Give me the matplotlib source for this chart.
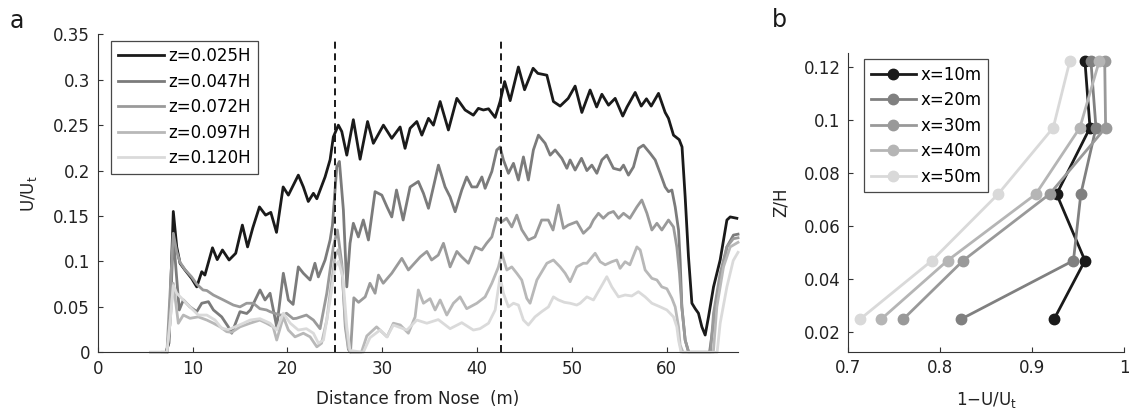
import matplotlib
matplotlib.use("Agg")
import matplotlib.pyplot as plt

plt.rcParams['font.family'] = ['DejaVu Sans']
plt.rcParams['mathtext.fontset'] = 'dejavusans'

# ---------------- Panel a data ----------------
labels_a = ["z=0.025H", "z=0.047H", "z=0.072H", "z=0.097H", "z=0.120H"]
colors_a = ["#1a1a1a", "#7b7b7b", "#9a9a9a", "#b8b8b8", "#dadada"]

x_z025 = [7.2, 7.5, 7.97, 8.33, 8.68, 9.2, 9.9, 10.44, 10.97, 11.3, 11.7, 12.1, 12.6, 13.15, 13.85,
          14.55, 15.25, 15.8, 16.35, 17.05, 17.7, 18.25, 18.85, 19.55, 20.1, 21.15, 21.68, 22.2,
          22.74, 23.1, 23.97, 24.5, 24.84, 25.37, 25.73, 26.26, 26.95, 27.66, 28.45, 29.06, 30.12,
          31.0, 31.88, 32.4, 32.93, 33.64, 34.17, 34.87, 35.39, 36.1, 36.97, 37.86, 38.73, 39.6,
          40.13, 40.66, 41.2, 41.9, 42.42, 42.9, 43.48, 44.35, 45.0, 45.9, 46.4, 47.35, 48.04,
          48.75, 49.6, 50.33, 51.04, 51.91, 52.6, 53.15, 53.85, 54.55, 55.35, 55.8, 56.66, 57.3,
          57.85, 58.35, 59.12, 59.82, 60.17, 60.7, 61.3, 61.6, 61.93, 62.28, 62.64, 62.99, 63.33,
          63.69, 64.04, 64.39, 64.92, 65.62, 66.33, 66.68, 67.38]
y_z025 = [0.0, 0.01, 0.155, 0.116, 0.098, 0.0906, 0.0814, 0.072, 0.0887, 0.085, 0.100, 0.115,
          0.102, 0.1126, 0.1016, 0.109, 0.140, 0.116, 0.137, 0.160, 0.151, 0.154, 0.132, 0.182,
          0.173, 0.195, 0.182, 0.166, 0.175, 0.169, 0.193, 0.212, 0.237, 0.250, 0.243, 0.217,
          0.256, 0.2125, 0.254, 0.230, 0.250, 0.2355, 0.248, 0.2245, 0.2465, 0.254, 0.239, 0.2575,
          0.250, 0.276, 0.2447, 0.2795, 0.2667, 0.261, 0.2685, 0.2667, 0.268, 0.2585, 0.276,
          0.298, 0.277, 0.314, 0.289, 0.3126, 0.307, 0.305, 0.276, 0.271, 0.2795, 0.293, 0.264,
          0.2887, 0.270, 0.284, 0.272, 0.2795, 0.260, 0.270, 0.286, 0.271, 0.279, 0.271, 0.285,
          0.264, 0.2575, 0.239, 0.234, 0.226, 0.171, 0.105, 0.054, 0.048, 0.043, 0.028, 0.019,
          0.039, 0.072, 0.1016, 0.1456, 0.149, 0.1475]

x_z047 = [7.3, 7.6, 7.97, 8.3, 8.6, 9.03, 9.73, 10.44, 10.97, 11.67, 12.2, 13.07, 13.77, 14.13,
          14.66, 15.0, 15.71, 16.1, 16.6, 17.11, 17.64, 18.17, 18.87, 19.57, 20.1, 20.6, 21.15,
          21.68, 22.39, 22.9, 23.26, 23.97, 24.5, 24.75, 25.2, 25.48, 25.9, 26.26, 26.6, 26.95,
          27.48, 28.0, 28.54, 29.24, 29.95, 30.5, 31.0, 31.5, 32.2, 32.93, 33.8, 34.34, 34.87,
          35.39, 35.92, 36.62, 37.15, 37.68, 38.38, 38.9, 39.44, 39.97, 40.5, 40.84, 41.55, 42.07,
          42.42, 42.77, 43.3, 43.83, 44.35, 44.88, 45.4, 45.93, 46.46, 47.17, 47.7, 48.22, 48.93,
          49.46, 49.8, 50.33, 51.0, 51.57, 52.09, 52.62, 53.15, 53.67, 54.37, 55.07, 55.43, 55.95,
          56.48, 57.01, 57.53, 58.24, 58.77, 59.3, 59.82, 60.17, 60.53, 60.88, 61.23, 61.4, 61.58,
          61.93, 62.3, 64.5, 64.92, 65.62, 66.33, 67.02, 67.5]
y_z047 = [0.0, 0.03, 0.129, 0.085, 0.0466, 0.0576, 0.050, 0.0447, 0.054, 0.0557, 0.0466, 0.039,
          0.028, 0.021, 0.0355, 0.0447, 0.0427, 0.0466, 0.0576, 0.0686, 0.0576, 0.065, 0.028,
          0.087, 0.0576, 0.0527, 0.094, 0.087, 0.0796, 0.098, 0.083, 0.1016, 0.1236, 0.140, 0.204,
          0.21, 0.1566, 0.072, 0.120, 0.142, 0.127, 0.1456, 0.1236, 0.1768, 0.173, 0.160, 0.149,
          0.1786, 0.1456, 0.182, 0.188, 0.175, 0.1585, 0.182, 0.206, 0.182, 0.171, 0.1547, 0.1786,
          0.193, 0.182, 0.182, 0.193, 0.1805, 0.199, 0.2227, 0.226, 0.2117, 0.197, 0.208, 0.1896,
          0.215, 0.1896, 0.2227, 0.239, 0.230, 0.217, 0.2227, 0.2135, 0.2025, 0.2117, 0.2006,
          0.2135, 0.2, 0.206, 0.197, 0.2117, 0.217, 0.2025, 0.2006, 0.206, 0.195, 0.204, 0.2245,
          0.228, 0.219, 0.2117, 0.197, 0.182, 0.1768, 0.1786, 0.160, 0.1346, 0.1016, 0.050, 0.0135,
          0.0, 0.0, 0.032, 0.0796, 0.116, 0.129, 0.130]

x_z072 = [6.8, 7.3, 7.6, 7.97, 8.33, 8.68, 9.2, 9.9, 10.44, 11.1, 11.5, 12.2, 13.25, 14.3, 15.0,
          15.7, 16.4, 17.1, 17.8, 18.17, 19.2, 19.6, 19.9, 20.6, 20.95, 22.0, 22.74, 23.44, 24.15,
          24.84, 25.27, 25.73, 26.1, 26.43, 26.65, 27.0, 27.5, 28.2, 28.7, 29.24, 29.6, 30.1, 31.0,
          32.06, 32.75, 34.0, 34.7, 35.2, 35.9, 36.45, 37.15, 37.86, 38.38, 39.08, 39.8, 40.5,
          41.0, 41.55, 42.07, 42.6, 43.1, 43.65, 44.18, 44.7, 45.4, 46.1, 46.8, 47.5, 48.0, 48.57,
          49.1, 49.6, 50.5, 51.2, 51.9, 52.26, 52.79, 53.3, 53.85, 54.37, 54.9, 55.43, 56.1, 56.84,
          57.36, 57.9, 58.42, 58.95, 59.47, 60.17, 60.7, 61.05, 61.33, 61.58, 61.93, 62.3, 64.6,
          64.92, 65.62, 66.33, 67.0, 67.5]
y_z072 = [0.0, 0.0, 0.06, 0.131, 0.111, 0.099, 0.091, 0.083, 0.075, 0.0686, 0.068, 0.063, 0.0576,
          0.052, 0.050, 0.054, 0.054, 0.048, 0.0466, 0.0447, 0.041, 0.041, 0.043, 0.037, 0.0374,
          0.041, 0.0355, 0.026, 0.065, 0.116, 0.1346, 0.098, 0.028, 0.003, 0.0, 0.06, 0.055, 0.061,
          0.076, 0.065, 0.085, 0.076, 0.087, 0.1034, 0.0906, 0.105, 0.111, 0.1016, 0.107, 0.12,
          0.094, 0.111, 0.105, 0.098, 0.116, 0.1126, 0.120, 0.127, 0.1475, 0.1437, 0.1475, 0.138,
          0.151, 0.135, 0.1236, 0.127, 0.1456, 0.1456, 0.1346, 0.162, 0.1365, 0.140, 0.1437, 0.131,
          0.138, 0.1456, 0.153, 0.1475, 0.153, 0.155, 0.1475, 0.153, 0.1475, 0.160, 0.1676, 0.153,
          0.1346, 0.142, 0.1346, 0.1456, 0.138, 0.116, 0.087, 0.050, 0.0135, 0.0, 0.0, 0.043,
          0.087, 0.116, 0.125, 0.126]

x_z097 = [5.6, 7.3, 7.6, 7.97, 8.5, 9.03, 9.73, 10.6, 11.5, 12.2, 12.9, 13.6, 14.13, 15.0, 16.06,
          17.1, 17.8, 18.5, 18.87, 19.57, 20.1, 20.8, 21.68, 22.39, 23.1, 23.6, 24.15, 24.68,
          25.02, 25.37, 25.73, 26.1, 26.43, 26.8, 27.8, 28.37, 29.4, 30.5, 31.17, 31.9, 32.75,
          33.46, 33.8, 34.34, 35.04, 35.57, 36.1, 36.8, 37.5, 38.2, 38.9, 39.26, 39.97, 40.84,
          41.55, 42.25, 42.6, 43.13, 43.65, 44.18, 44.7, 45.23, 45.58, 46.3, 47.35, 48.04, 48.75,
          49.28, 49.8, 50.5, 51.2, 51.57, 52.44, 52.97, 53.5, 54.2, 54.72, 55.07, 55.6, 56.1,
          56.84, 57.19, 57.71, 58.42, 58.95, 59.47, 60.0, 60.53, 60.88, 61.23, 61.4, 61.7, 64.9,
          65.27, 65.97, 66.68, 67.5]
y_z097 = [0.0, 0.0, 0.03, 0.076, 0.032, 0.041, 0.0374, 0.039, 0.0355, 0.032, 0.028, 0.0227,
          0.022, 0.028, 0.032, 0.0355, 0.032, 0.028, 0.0135, 0.039, 0.0245, 0.017, 0.021, 0.017,
          0.006, 0.01, 0.0355, 0.0796, 0.105, 0.113, 0.094, 0.0355, 0.005, 0.0, 0.0, 0.018, 0.028,
          0.017, 0.032, 0.030, 0.021, 0.039, 0.0686, 0.054, 0.059, 0.0466, 0.0576, 0.041, 0.054,
          0.061, 0.048, 0.050, 0.054, 0.061, 0.076, 0.094, 0.109, 0.0906, 0.094, 0.087, 0.0796,
          0.0594, 0.054, 0.0796, 0.098, 0.1016, 0.094, 0.087, 0.0777, 0.094, 0.098, 0.098, 0.109,
          0.0997, 0.0963, 0.0997, 0.1016, 0.0924, 0.0997, 0.0963, 0.116, 0.1126, 0.0906, 0.0814,
          0.0796, 0.072, 0.070, 0.0594, 0.050, 0.028, 0.008, 0.0, 0.0, 0.050, 0.094, 0.116, 0.121]

x_z120 = [5.6, 7.3, 7.6, 7.97, 8.33, 9.03, 9.73, 10.6, 11.5, 12.37, 13.07, 13.77, 14.48, 15.36,
          16.06, 17.1, 18.17, 18.87, 19.57, 20.3, 21.15, 22.0, 22.74, 23.27, 23.8, 24.5, 25.02,
          25.37, 25.84, 26.26, 26.6, 28.0, 28.7, 29.77, 30.5, 31.17, 32.6, 33.64, 34.7, 35.9,
          37.15, 38.38, 39.6, 40.3, 41.2, 41.9, 42.42, 42.77, 43.3, 43.83, 44.35, 44.88, 45.4,
          46.1, 46.8, 47.52, 48.04, 48.57, 49.2, 49.8, 50.5, 50.86, 51.57, 52.26, 52.97, 53.67,
          54.2, 54.9, 55.6, 56.3, 57.0, 57.71, 58.42, 59.3, 60.0, 60.7, 61.05, 61.23, 61.5, 65.3,
          65.62, 66.33, 67.0, 67.5]
y_z120 = [0.0, 0.0, 0.03, 0.0735, 0.065, 0.0576, 0.050, 0.041, 0.041, 0.0355, 0.0264, 0.025,
          0.028, 0.032, 0.0355, 0.037, 0.032, 0.0245, 0.043, 0.032, 0.0245, 0.026, 0.021, 0.01,
          0.0135, 0.0576, 0.094, 0.1, 0.083, 0.028, 0.002, 0.0, 0.016, 0.0245, 0.017, 0.030,
          0.0245, 0.0355, 0.032, 0.036, 0.026, 0.0326, 0.0245, 0.026, 0.032, 0.0466, 0.0832, 0.065,
          0.050, 0.054, 0.052, 0.0355, 0.030, 0.039, 0.0447, 0.050, 0.061, 0.0576, 0.055, 0.054,
          0.052, 0.054, 0.061, 0.0576, 0.0704, 0.0832, 0.072, 0.061, 0.0631, 0.062, 0.0667, 0.061,
          0.054, 0.050, 0.0466, 0.039, 0.028, 0.0135, 0.0, 0.0, 0.032, 0.072, 0.101, 0.11]

dash_positions = [25.0, 42.5]
xticks_a = [0, 10, 20, 30, 40, 50, 60]
yticks_a = [0, 0.05, 0.1, 0.15, 0.2, 0.25, 0.3, 0.35]
yticklabels_a = ["0", "0.05", "0.1", "0.15", "0.2", "0.25", "0.3", "0.35"]

# ---------------- Panel b data ----------------
z_levels = [0.025, 0.047, 0.072, 0.097, 0.122]
labels_b = ["x=10m", "x=20m", "x=30m", "x=40m", "x=50m"]
colors_b = ["#1a1a1a", "#808080", "#999999", "#b5b5b5", "#d9d9d9"]
v_x10 = [0.924, 0.9575, 0.9267, 0.963, 0.9575]
v_x20 = [0.823, 0.945, 0.953, 0.9695, 0.964]
v_x30 = [0.760, 0.825, 0.919, 0.980, 0.979]
v_x40 = [0.736, 0.808, 0.904, 0.952, 0.973]
v_x50 = [0.713, 0.791, 0.863, 0.923, 0.941]
xticks_b = [0.7, 0.8, 0.9, 1.0]
xticklabels_b = ["0.7", "0.8", "0.9", "1"]
yticks_b = [0.02, 0.04, 0.06, 0.08, 0.1, 0.12]
yticklabels_b = ["0.02", "0.04", "0.06", "0.08", "0.1", "0.12"]

FS = 12
TXT = "#222222"
fig = plt.figure(figsize=(11.29, 4.18), dpi=100)
W, H = 1129, 418
axa = fig.add_axes([97.7 / W, 1 - 352.3 / H, (738 - 97.7) / W, (352.3 - 34.3) / H])
axb = fig.add_axes([848.3 / W, 1 - 351.7 / H, (1124 - 848.3) / W, (351.7 - 53.3) / H])

def style(ax):
    for s in ("top", "right"):
        ax.spines[s].set_visible(False)
    for s in ("left", "bottom"):
        ax.spines[s].set_linewidth(0.8)
        ax.spines[s].set_color("#333333")
    ax.tick_params(direction="in", length=3.6, width=0.8, color="#333333",
                   labelsize=FS, labelcolor=TXT)
    ax.tick_params(axis="y", pad=5.5)
    ax.tick_params(axis="x", pad=5.5)

series_a = [(x_z025, y_z025), (x_z047, y_z047), (x_z072, y_z072), (x_z097, y_z097), (x_z120, y_z120)]
for (xs, ys), c, lab in zip(series_a, colors_a, labels_a):
    axa.plot(xs, ys, color=c, lw=2.0, label=lab, solid_joinstyle="round", clip_on=False)
for xd in dash_positions:
    axa.plot([xd, xd], [0, 0.343], color="#1a1a1a", lw=1.4, dashes=(3.6, 2.4))
axa.set_xlim(0, 67.5)
axa.set_ylim(0, 0.35)
axa.set_xticks(xticks_a)
axa.set_yticks(yticks_a)
axa.set_yticklabels(yticklabels_a)
style(axa)
axa.set_xlabel("Distance from Nose  (m)", fontsize=FS, labelpad=9, color=TXT)
axa.set_ylabel("U/U$_\\mathregular{t}$", fontsize=FS, labelpad=10, color=TXT)
leg = axa.legend(loc="upper left", bbox_to_anchor=(0.0208, 0.98), borderaxespad=0,
                 fontsize=FS, frameon=True, fancybox=False, handlelength=2.75,
                 handletextpad=0.3, labelspacing=0.45, borderpad=0.4)
leg.get_frame().set_edgecolor("#1a1a1a")
leg.get_frame().set_linewidth(0.9)

series_b = [v_x10, v_x20, v_x30, v_x40, v_x50]
for vs, c, lab in zip(series_b, colors_b, labels_b):
    axb.plot(vs, z_levels, color=c, lw=2.0, marker="o", ms=7.5, mfc=c, mec=c, label=lab,
             clip_on=False)
axb.set_xlim(0.7, 1.0)
axb.set_ylim(0.0127, 0.125)
axb.set_xticks(xticks_b)
axb.set_xticklabels(xticklabels_b)
axb.set_yticks(yticks_b)
axb.set_yticklabels(yticklabels_b)
style(axb)
axb.set_xlabel("1\u2212U/U$_\\mathregular{t}$", fontsize=FS, labelpad=9, color=TXT)
axb.set_ylabel("Z/H", fontsize=FS, labelpad=10, color=TXT)
legb = axb.legend(loc="upper left", bbox_to_anchor=(0.057, 0.981), borderaxespad=0,
                  fontsize=FS, frameon=True, fancybox=False, handlelength=2.7,
                  handletextpad=0.3, labelspacing=0.45, borderpad=0.4)
legb.get_frame().set_edgecolor("#1a1a1a")
legb.get_frame().set_linewidth(0.9)

fig.text(10 / W, 1 - 28 / H, "a", fontsize=17, color="#1a1a1a")
fig.text(772 / W, 1 - 27 / H, "b", fontsize=17, color="#1a1a1a")

fig.savefig("out.png", dpi=100)
